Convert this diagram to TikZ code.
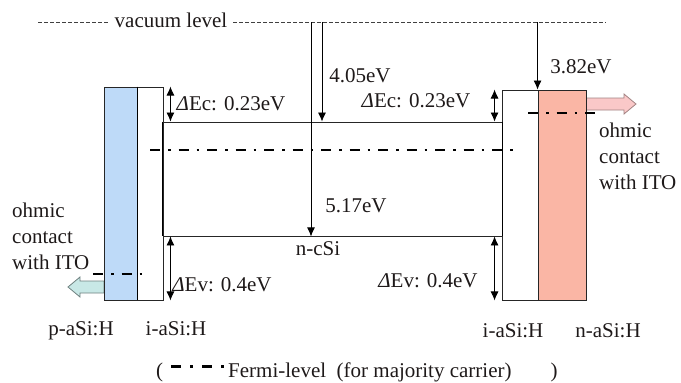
\documentclass[tikz,border=0pt]{standalone}
\usepackage{fontspec}
\setmainfont{Liberation Serif}
\usetikzlibrary{arrows.meta}
\definecolor{pfill}{RGB}{190,218,248}
\definecolor{nfill}{RGB}{250,182,165}
\definecolor{lcyan}{RGB}{200,232,230}
\definecolor{lpink}{RGB}{250,200,200}
\definecolor{ink}{RGB}{30,25,25}

\begin{document}
\begin{tikzpicture}[x=1pt,y=-1pt,
	font=\fontsize{21}{26}\selectfont,
	lbl/.style={inner sep=0pt, text=ink},
	band/.style={draw=black!85, line width=0.9pt, inner sep=0pt},
	fermi/.style={line width=1.6pt, dash pattern=on 10pt off 8pt on 2.5pt off 8pt},
	vac/.style={draw=black!75, line width=0.8pt, dash pattern=on 4pt off 2pt},
	evarrow/.style={line width=0.8pt, -{Latex[length=9pt,width=8pt]}},
	gaparrow/.style={line width=0.8pt, {Latex[length=9pt,width=8pt]}-{Latex[length=9pt,width=8pt]}},
	ohm/.style={line width=0.8pt, line join=miter}]
	
	\useasboundingbox (0,0) rectangle (681,383);
	
	% Contact arrows
	\coordinate (ohmL) at (68,287);
	\coordinate (ohmR) at (636,104);
	\draw[ohm, draw=lcyan!55!black, fill=lcyan] (ohmL) -- ++(12,-10) -- ++(0,4) -- ++(24,0) -- ++(0,12) -- ++(-24,0) -- ++(0,4) -- cycle;
	\draw[ohm, draw=lpink!65!black, fill=lpink] (ohmR) -- ++(-12,-10) -- ++(0,4) -- ++(-38,0) -- ++(0,12) -- ++(38,0) -- ++(0,4) -- cycle;
	
	% Layers
	\node[band, fill=pfill, minimum width=33pt, minimum height=213pt] (pa) at (120.5,193.5) {};
	\node[band, minimum width=26pt, minimum height=213pt] (ial) at (150,193.5) {};
	\node[band, minimum width=339pt, minimum height=114pt] (nc) at (332.5,179) {};
	\node[band, minimum width=36pt, minimum height=210pt] (iar) at (520,195) {};
	\node[band, fill=nfill, minimum width=48pt, minimum height=210pt] (na) at (562,195) {};
	\draw[line width=1.8pt] (pa.north east) -- (pa.south east);
	\draw[line width=1.6pt] (nc.north west) -- (nc.south west);
	\draw[line width=1.6pt] (nc.north east) -- (nc.south east);
	
	% Fermi levels
	\draw[fermi] (93,274) -- (146,274);
	\draw[fermi] (150,150) -- (519,150);
	\draw[fermi] (528,113) -- (599,113);
	
	% Vacuum level
	\node[lbl, anchor=base] (vac) at (171,27) {vacuum level};
	\coordinate (vacL) at (38,22);
	\coordinate (vacR) at (606,22);
	\draw[vac] (vacL) -- ([xshift=-6pt]vacL -| vac.west);
	\draw[vac] ([xshift=6pt]vacL -| vac.east) -- (vacR);
	
	% Energies from vacuum level
	\coordinate (v517) at (311,22);
	\coordinate (v405) at (322,22);
	\draw[evarrow] (v517) -- (v517 |- nc.south);
	\draw[evarrow] (v405) -- (v405 |- nc.north);
	\draw[evarrow] (na.north west |- vacR) -- (na.north west);
	
	% Band offsets
	\draw[gaparrow] ([xshift=7pt]ial.north east) -- ([xshift=7pt]ial.north east |- nc.north);
	\draw[gaparrow] ([xshift=7pt]ial.south east) -- ([xshift=7pt]ial.south east |- nc.south);
	\draw[gaparrow] ([xshift=-7pt]iar.north west) -- ([xshift=-7pt]iar.north west |- nc.north);
	\draw[gaparrow] ([xshift=-7pt]iar.south west) -- ([xshift=-7pt]iar.south west |- nc.south);
	
	% Labels
	\node[lbl, anchor=base] (e405) at (360,82) {4.05eV};
	\node[lbl, anchor=base] (decl) at (231,110) {{\itshape Δ}Ec: 0.23eV};
	\node[lbl, anchor=base] (decr) at (416,107) {{\itshape Δ}Ec: 0.23eV};
	\node[lbl, anchor=base] (e382) at (581,73) {3.82eV};
	\node[lbl, anchor=base] (e517) at (356,212) {5.17eV};
	\node[lbl, anchor=base] (ncl) at (318,255) {n-cSi};
	\node[lbl, anchor=base] (devl) at (222,291) {{\itshape Δ}Ev: 0.4eV};
	\node[lbl, anchor=base] (devr) at (428,287) {{\itshape Δ}Ev: 0.4eV};
	\node[lbl, anchor=base] (pal) at (81,335) {p-aSi:H};
	\node[lbl, anchor=base] (iall) at (176,335) {i-aSi:H};
	\node[lbl, anchor=base] (iarl) at (513,337) {i-aSi:H};
	\node[lbl, anchor=base] (nal) at (608,337) {n-aSi:H};
	\node[lbl, anchor=north west, align=left] (ohmLt) at (12,203) {ohmic\\contact\\with ITO};
	\node[lbl, anchor=north west, align=left] (ohmRt) at (599,123) {ohmic\\contact\\with ITO};
	
	% Legend
	\node[lbl, anchor=base west] (lgo) at (156,377) {(};
	\draw[line width=3pt, dash pattern=on 10pt off 9pt on 3pt off 9pt] (171,366) -- (225,366);
	\node[lbl, anchor=base west] (lgt) at (228,377) {Fermi-level\ \ (for majority carrier)};
	\node[lbl, anchor=base] (lgc) at (554,377) {)};
\end{tikzpicture}
\end{document}
